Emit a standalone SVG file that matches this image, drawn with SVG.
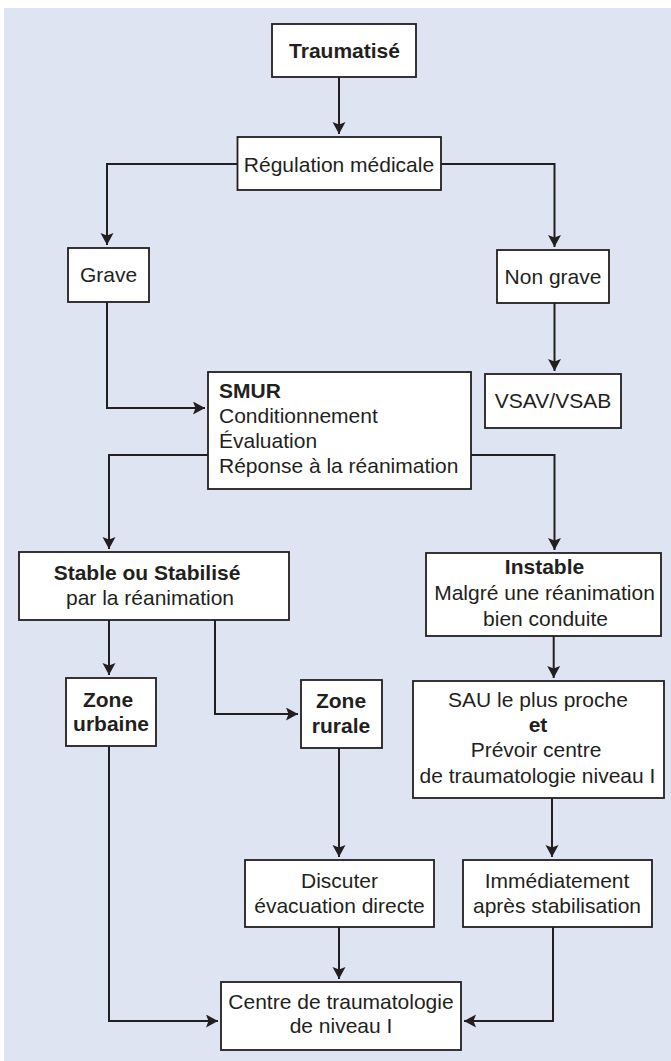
<svg xmlns="http://www.w3.org/2000/svg" width="671" height="1061" viewBox="0 0 671 1061">
<defs>
<style>
.bg{fill:#dee4f2}
.box{fill:#ffffff;stroke:#231f20;stroke-width:1.8}
.t{font-family:"Liberation Sans",Arial,sans-serif;font-size:21px;fill:#231f20;text-anchor:middle}
.l{text-anchor:start}
.b{font-weight:bold}
.c{fill:none;stroke:#231f20;stroke-width:2;marker-end:url(#ah)}
</style>
<marker id="ah" markerUnits="userSpaceOnUse" markerWidth="14" markerHeight="14" refX="12" refY="6.5" orient="auto">
<path d="M0,0 L12,6.5 L0,13 L2.5,6.5 Z" fill="#231f20"/>
</marker>
</defs>
<rect class="bg" x="4" y="8" width="667" height="1053"/>
<g id="connectors">
<path class="c" d="M339,77 V134"/>
<path class="c" d="M237.5,164 H107 V245"/>
<path class="c" d="M441,164 H554.5 V247"/>
<path class="c" d="M107,302 V408 H205"/>
<path class="c" d="M554.5,303 V371"/>
<path class="c" d="M208,455 H109 V549"/>
<path class="c" d="M471,455 H554.5 V550"/>
<path class="c" d="M109,620 V675"/>
<path class="c" d="M215,620 V714 H298"/>
<path class="c" d="M553.7,636 V678"/>
<path class="c" d="M339,748 V857"/>
<path class="c" d="M552,798 V857"/>
<path class="c" d="M339,927 V979"/>
<path class="c" d="M109,746 V1021 H218"/>
<path class="c" d="M553,927 V1021 H464"/>
</g>
<g id="traumatise">
<rect class="box" x="272" y="24" width="144" height="53"/>
<text class="t b" x="344.5" y="57.5">Traumatisé</text>
</g>
<g id="regulation">
<rect class="box" x="237.5" y="137" width="203.5" height="53"/>
<text class="t" x="339" y="172">Régulation médicale</text>
</g>
<g id="grave">
<rect class="box" x="68" y="248" width="81" height="54"/>
<text class="t" x="108.5" y="282">Grave</text>
</g>
<g id="non-grave">
<rect class="box" x="497" y="250" width="112" height="53"/>
<text class="t" x="553" y="284">Non grave</text>
</g>
<g id="vsav">
<rect class="box" x="485" y="374" width="136" height="54"/>
<text class="t" x="553" y="408">VSAV/VSAB</text>
</g>
<g id="smur">
<rect class="box" x="208" y="372" width="263" height="117"/>
<text class="t l b" x="219" y="398">SMUR</text>
<text class="t l" x="219" y="423">Conditionnement</text>
<text class="t l" x="219" y="448">Évaluation</text>
<text class="t l" x="219" y="473">Réponse à la réanimation</text>
</g>
<g id="stable">
<rect class="box" x="19" y="552" width="270" height="68"/>
<text class="t b" x="147" y="580">Stable ou Stabilisé</text>
<text class="t" x="150" y="605">par la réanimation</text>
</g>
<g id="instable">
<rect class="box" x="426" y="553" width="235" height="83"/>
<text class="t b" x="544.5" y="574">Instable</text>
<text class="t" x="544.5" y="600">Malgré une réanimation</text>
<text class="t" x="545.5" y="626">bien conduite</text>
</g>
<g id="zone-urbaine">
<rect class="box" x="66" y="678" width="90" height="68"/>
<text class="t b" x="108" y="707">Zone</text>
<text class="t b" x="111" y="731">urbaine</text>
</g>
<g id="zone-rurale">
<rect class="box" x="301" y="680" width="81" height="68"/>
<text class="t b" x="341" y="708">Zone</text>
<text class="t b" x="341" y="733">rurale</text>
</g>
<g id="sau">
<rect class="box" x="413" y="681" width="251" height="117"/>
<text class="t" x="538" y="707">SAU le plus proche</text>
<text class="t b" x="538" y="732">et</text>
<text class="t" x="536" y="757">Prévoir centre</text>
<text class="t" x="537.5" y="783">de traumatologie niveau I</text>
</g>
<g id="discuter">
<rect class="box" x="245" y="860" width="189" height="67"/>
<text class="t" x="339.5" y="888">Discuter</text>
<text class="t" x="339.5" y="913">évacuation directe</text>
</g>
<g id="immediatement">
<rect class="box" x="463" y="860" width="189" height="67"/>
<text class="t" x="557" y="888">Immédiatement</text>
<text class="t" x="557" y="913">après stabilisation</text>
</g>
<g id="centre">
<rect class="box" x="221" y="982" width="240" height="68"/>
<text class="t" x="341" y="1009">Centre de traumatologie</text>
<text class="t" x="341" y="1033">de niveau I</text>
</g>
</svg>
